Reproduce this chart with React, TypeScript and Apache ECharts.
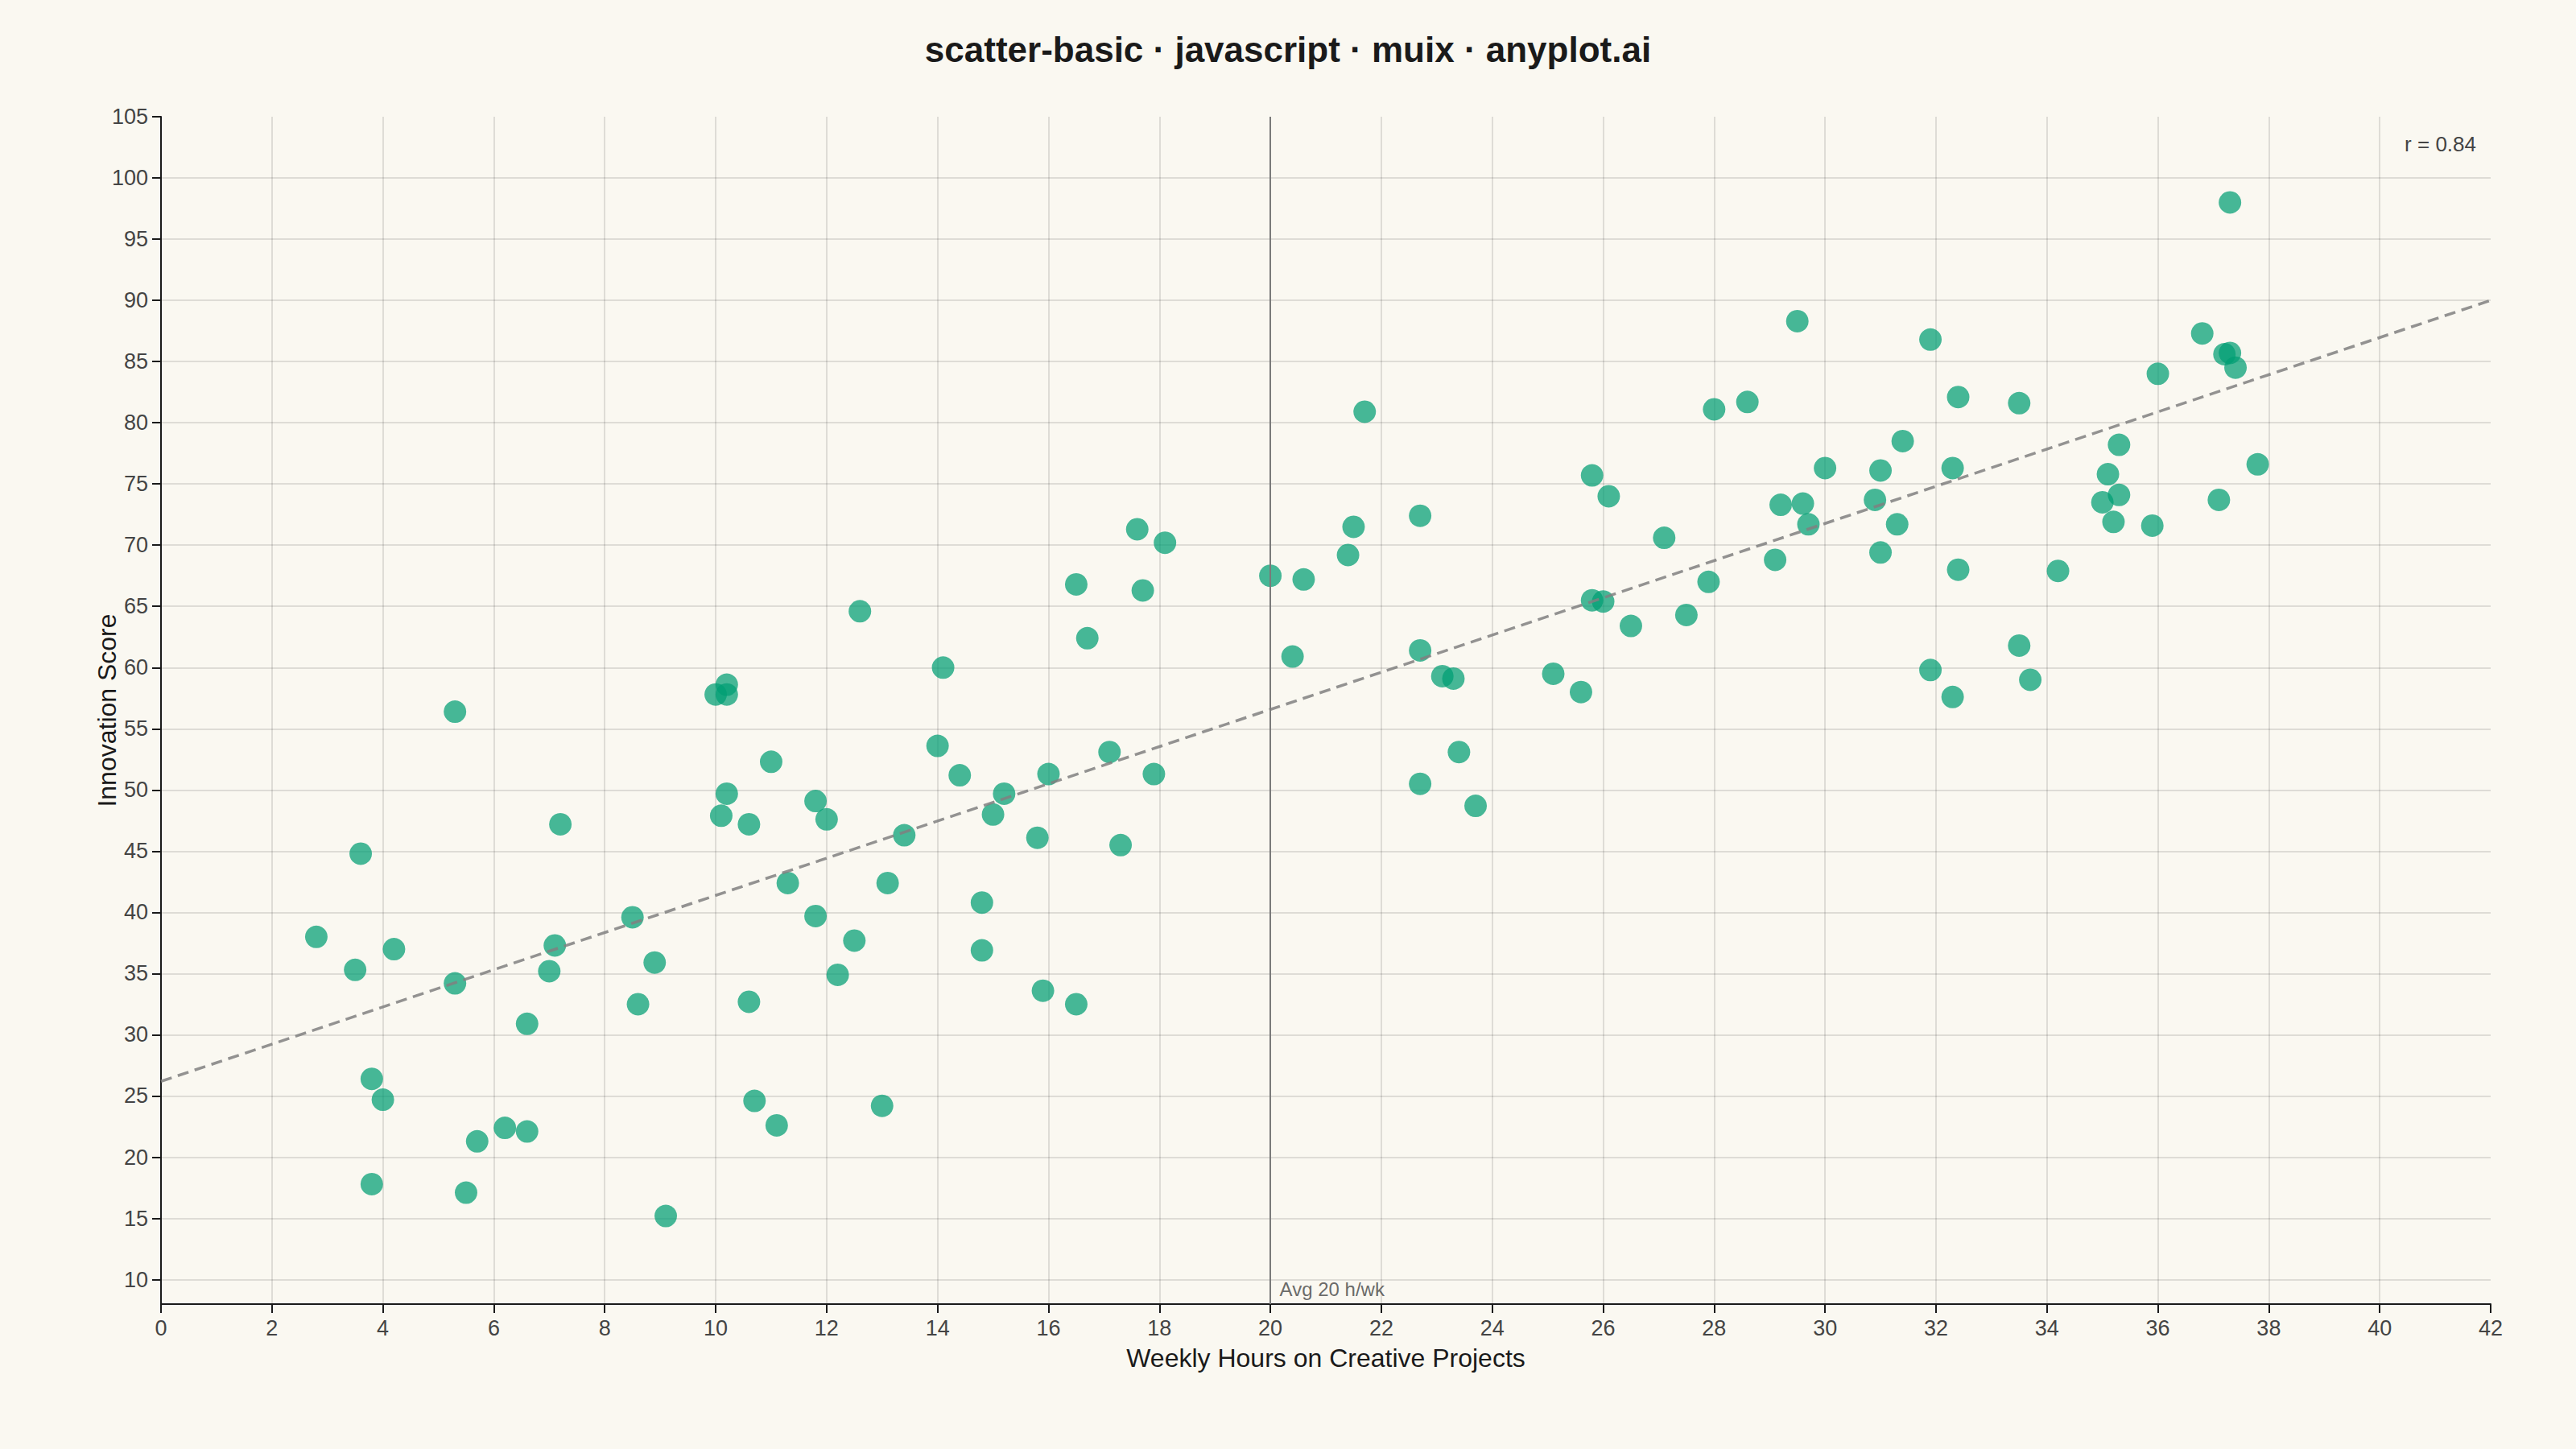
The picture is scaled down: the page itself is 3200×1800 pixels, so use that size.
import React, { useEffect, useRef } from "react";
import * as echarts from "echarts";

// Weekly hours on creative projects (x) and innovation score (y)
const hours = [
  2.8, 3.6, 3.5, 4.2, 3.8, 4.0, 3.8, 5.3, 5.3, 5.7,
  5.5, 6.2, 6.6, 6.6, 7.2, 7.1, 7.0, 8.5, 8.9, 8.6,
  9.1, 10.0, 10.2, 10.2, 10.2, 10.1, 10.6, 11.0, 11.8, 12.0,
  11.3, 11.8, 10.6, 10.7, 11.1, 12.5, 12.2, 13.1, 13.4, 13.0,
  12.6, 14.1, 14.0, 14.4, 15.2, 15.0, 15.8, 16.0, 16.7, 17.1,
  17.9, 17.3, 14.8, 14.8, 15.9, 16.5, 17.6, 18.1, 16.5, 17.7,
  20.0, 20.6, 21.4, 21.5, 21.7, 22.7, 20.4, 22.7, 23.1, 23.3,
  23.4, 22.7, 23.7, 25.1, 25.6, 25.8, 26.1, 27.1, 25.8, 26.0,
  26.5, 27.5, 27.9, 28.0, 28.6, 29.5, 30.0, 29.2, 29.6, 29.7,
  29.1, 31.9, 32.4, 33.5, 31.4, 31.0, 32.3, 30.9, 31.3, 31.0,
  32.4, 34.2, 33.5, 31.9, 33.7, 32.3, 36.0, 36.8, 37.2, 37.3,
  37.4, 37.3, 35.3, 35.1, 35.3, 35.0, 35.2, 35.9, 37.1, 37.8,
];
const scores = [
  38.0, 44.8, 35.3, 37.0, 26.4, 24.7, 17.8, 56.4, 34.2, 21.3,
  17.1, 22.4, 22.1, 30.9, 47.2, 37.3, 35.2, 39.6, 35.9, 32.5,
  15.2, 57.8, 58.6, 57.8, 49.7, 47.9, 47.2, 52.3, 49.1, 47.6,
  42.4, 39.7, 32.7, 24.6, 22.6, 37.7, 34.9, 42.4, 46.3, 24.2,
  64.6, 60.0, 53.6, 51.2, 49.7, 48.0, 46.1, 51.3, 62.4, 53.1,
  51.3, 45.5, 40.8, 36.9, 33.6, 32.5, 71.3, 70.2, 66.8, 66.3,
  67.5, 67.2, 69.2, 71.5, 80.9, 72.4, 60.9, 61.4, 59.3, 59.1,
  53.1, 50.5, 48.7, 59.5, 58.0, 75.7, 74.0, 70.6, 65.5, 65.4,
  63.4, 64.3, 67.0, 81.1, 81.7, 88.3, 76.3, 73.3, 73.4, 71.7,
  68.8, 86.8, 82.1, 81.6, 78.5, 76.1, 76.3, 73.7, 71.7, 69.4,
  68.0, 67.9, 61.8, 59.8, 59.0, 57.6, 84.0, 87.3, 85.6, 85.7,
  84.5, 98.0, 78.2, 75.8, 74.1, 73.5, 71.9, 71.6, 73.7, 76.6,
];

// Trend line end points
const trendStart = [0, 26.2];
const trendEnd = [42, 90.0];

const avgHours = 20;
const avgLabel = "Avg 20 h/wk";
const rLabel = "r = 0.84";

const xMin = 0;
const xMax = 42;
const xStep = 2;
const yMin = 8;
const yMax = 105;
const yStep = 5;

const TITLE = "scatter-basic · javascript · muix · anyplot.ai";
const X_NAME = "Weekly Hours on Creative Projects";
const Y_NAME = "Innovation Score";

const FONT = "'Liberation Sans', Arial, Helvetica, sans-serif";
const BG = "#FAF8F1";
const INK = "#1a1a1a";
const SOFT = "#444444";
const GRID = "rgba(0,0,0,0.15)";
const POINT = "#009E73";

export default function App() {
  const ref = useRef<HTMLDivElement>(null);

  useEffect(() => {
    document.body.style.margin = "0";
    if (!ref.current) return;
    const chart = echarts.init(ref.current, undefined, { renderer: "svg" });
    const points = hours.map((h, i) => [h, scores[i]]);

    chart.setOption({
      animation: false,
      backgroundColor: BG,
      textStyle: { fontFamily: FONT },
      title: {
        text: TITLE,
        left: "center",
        top: 34,
        textStyle: { fontFamily: FONT, fontSize: 44, fontWeight: "bold", color: INK },
      },
      grid: { left: 200, right: 106, top: 145, bottom: 180, containLabel: false },
      xAxis: {
        type: "value",
        min: xMin,
        max: xMax,
        interval: xStep,
        name: X_NAME,
        nameLocation: "middle",
        nameGap: 51,
        nameMoveOverlap: false,
        nameTextStyle: { fontFamily: FONT, fontSize: 32, color: INK },
        axisLine: { show: true, onZero: false, lineStyle: { color: INK, width: 2 } },
        axisTick: { show: true, length: 11, lineStyle: { color: INK, width: 2 } },
        axisLabel: { fontFamily: FONT, fontSize: 27, color: SOFT, margin: 16 },
        splitLine: {
          show: true,
          showMinLine: false,
          showMaxLine: false,
          lineStyle: { color: GRID, width: 1.5 },
        },
      },
      yAxis: {
        type: "value",
        min: yMin,
        max: yMax,
        splitNumber: 20,
        minInterval: yStep,
        maxInterval: yStep,
        name: Y_NAME,
        nameLocation: "middle",
        nameGap: 51,
        nameMoveOverlap: false,
        nameTextStyle: { fontFamily: FONT, fontSize: 32, color: INK },
        axisLine: { show: true, onZero: false, lineStyle: { color: INK, width: 2 } },
        axisTick: { show: true, length: 11, lineStyle: { color: INK, width: 2 } },
        axisLabel: {
          fontFamily: FONT,
          fontSize: 27,
          color: SOFT,
          margin: 16,
          showMinLabel: false,
          formatter: (v: number) => (v % yStep === 0 ? String(v) : ""),
        },
        splitLine: {
          show: true,
          showMinLine: false,
          showMaxLine: false,
          lineStyle: { color: GRID, width: 1.5 },
        },
      },
      graphic: [
        {
          type: "text",
          right: 124,
          top: 166,
          style: { text: rLabel, fontSize: 26, fontFamily: FONT, fill: SOFT },
        },
      ],
      series: [
        {
          type: "scatter",
          name: "avg",
          z: 1,
          data: [[avgHours, yMin]],
          symbol: "circle",
          symbolSize: 1,
          itemStyle: { color: "rgba(0,0,0,0)" },
          label: {
            show: true,
            formatter: avgLabel,
            position: [12, -30],
            fontFamily: FONT,
            fontSize: 24,
            color: SOFT,
          },
          markLine: {
            silent: true,
            symbol: "none",
            label: { show: false },
            lineStyle: { color: "#7a7a7a", width: 2, type: "solid" },
            data: [{ xAxis: avgHours }],
          },
        },
        {
          type: "scatter",
          name: "points",
          z: 2,
          data: points,
          symbol: "circle",
          symbolSize: 28,
          itemStyle: { color: POINT, opacity: 0.72 },
        },
        {
          type: "line",
          name: "trend",
          z: 3,
          data: [trendStart, trendEnd],
          showSymbol: false,
          symbol: "none",
          lineStyle: { color: "#808080", width: 3.5, type: [14, 8], opacity: 0.85 },
        },
      ],
    });

    return () => chart.dispose();
  }, []);

  return (
    <div
      ref={ref}
      style={{ position: "absolute", left: 0, top: 0, width: 3200, height: 1800 }}
    />
  );
}
